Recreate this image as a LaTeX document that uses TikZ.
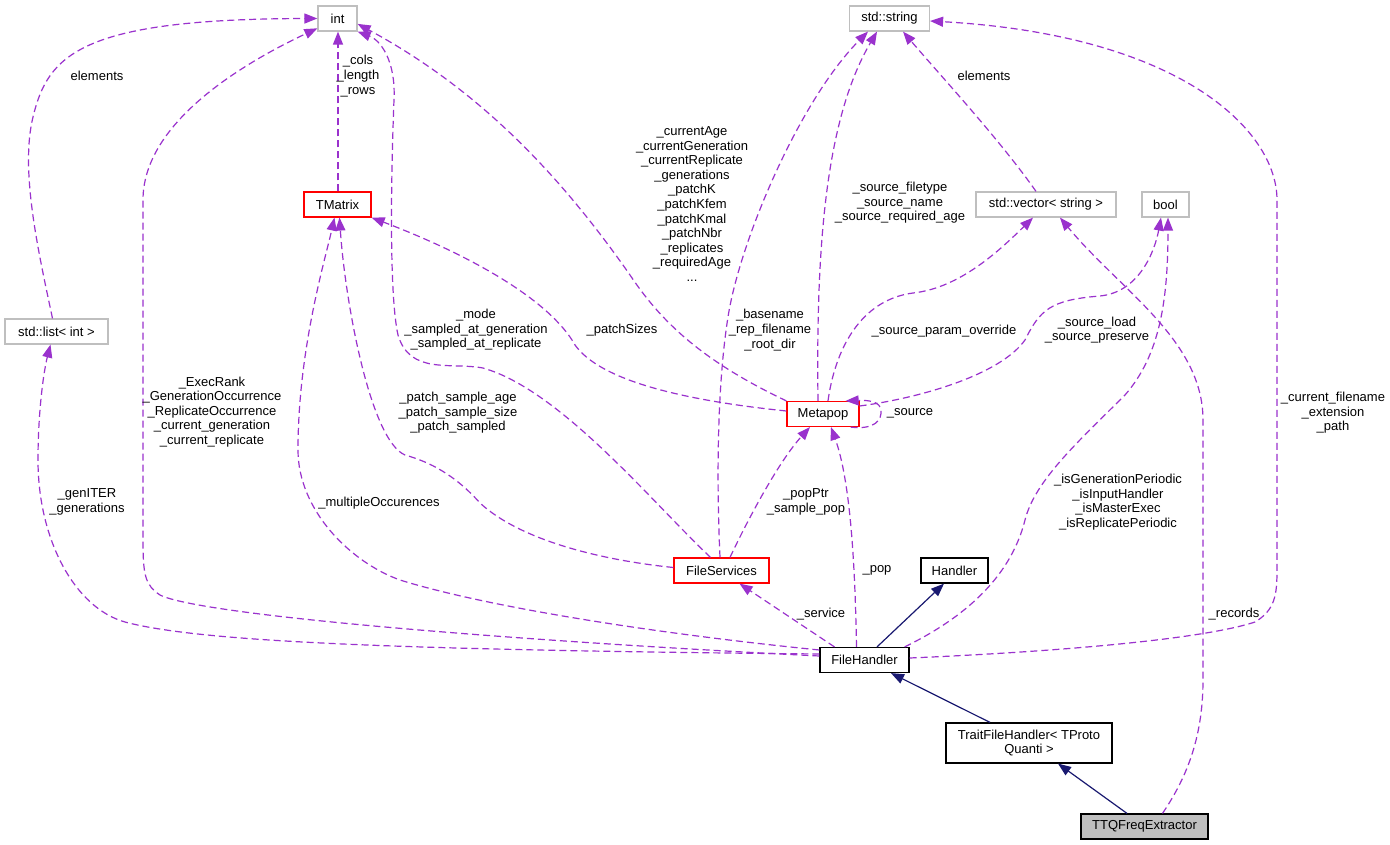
\documentclass[tikz,border=0pt]{standalone}
\usepackage{fontspec}
\newfontfamily\labfont{Liberation Sans}
\usetikzlibrary{arrows.meta}
\definecolor{boxgray}{HTML}{BFBFBF}
\definecolor{depc}{HTML}{9A32CD}
\definecolor{navyc}{HTML}{191970}
\newcommand{\lab}{\labfont\fontsize{13}{14.6}\selectfont}
\tikzset{
  box/.style={draw, line width=1.2pt, inner sep=0pt, font=\lab, align=center, fill=white, text=black},
  gbox/.style={box, draw=boxgray},
  rbox/.style={box, draw=red},
  kbox/.style={box, draw=black},
  dep/.style={draw=depc, line width=1.2pt, dash pattern=on 7pt off 4pt, -{Triangle[length=13pt,width=10pt]}},
  inh/.style={draw=navyc, line width=1.2pt, -{Triangle[length=13pt,width=10pt]}},
  lbl/.style={font=\lab, align=center, inner sep=0pt, text=black}
}
\begin{document}
\begin{tikzpicture}[x=1pt,y=-1pt]
\useasboundingbox (0,0) rectangle (1390,845);
\fill[white] (0,0) rectangle (1390,845);
% nodes
\node[gbox, minimum width=39pt, minimum height=25pt] (int) at (337.5,18.5) {int};
\node[gbox, minimum width=80pt, minimum height=25pt] (string) at (889.5,18.5) {std::string};
\node[rbox, minimum width=67pt, minimum height=25pt] (tmatrix) at (337.5,204.5) {TMatrix};
\node[gbox, minimum width=140pt, minimum height=25pt] (vector) at (1046,204.5) {std::vector< string >};
\node[gbox, minimum width=47pt, minimum height=25pt] (bool) at (1165.5,204.5) {bool};
\node[gbox, minimum width=103pt, minimum height=25pt] (list) at (56.5,331.5) {std::list< int >};
\node[rbox, minimum width=72pt, minimum height=25pt] (metapop) at (823,414) {Metapop};
\node[rbox, minimum width=95pt, minimum height=25pt] (fs) at (721.5,570.5) {FileServices};
\node[kbox, minimum width=67pt, minimum height=25pt] (handler) at (954.5,570.5) {Handler};
\node[kbox, minimum width=89pt, minimum height=25pt] (fh) at (864.5,660) {FileHandler};
\node[kbox, minimum width=166pt, minimum height=40pt] (trait) at (1029,743) {TraitFileHandler< TProto\\Quanti >};
\node[kbox, fill=boxgray, minimum width=127pt, minimum height=25pt] (ttq) at (1144.5,826.5) {TTQFreqExtractor};
% dependency edges
\draw[dep] ([xshift=-4pt]list.north) .. controls (38,250) and (20,170) .. (33,117) .. controls (48,55) and (80,19) .. (int.west);
\draw[dep] ([yshift=6pt]fh.west) .. controls (400,650) and (200,642) .. (125,622) .. controls (75,608) and (38,540) .. (38,460) .. controls (38,410) and (44,370) .. ([xshift=-6pt]list.south);
\draw[dep] ([yshift=4pt]fh.west) .. controls (500,640) and (200,615) .. (160,595) .. controls (145,585) and (143,575) .. (143,540) -- (143,200) .. controls (143,120) and (250,60) .. (int.206);
\draw[dep] ([xshift=0.5pt]tmatrix.north) -- ([xshift=0.5pt]int.south);
\draw[dep] (metapop.north west) .. controls (700,360) and (660,320) .. (630,275) .. controls (560,175) and (480,90) .. (int.-15);
\draw[dep] ([xshift=-11pt]fs.north) .. controls (650,500) and (560,390) .. (483,368) .. controls (450,362) and (410,375) .. (398,335) .. controls (388,290) and (392,150) .. (394,100) .. controls (396,60) and (380,40) .. (int.south east);
\draw[dep] ([yshift=3pt]fs.west) .. controls (600,560) and (520,540) .. (480,503) .. controls (455,475) and (430,462) .. (405,455) .. controls (370,440) and (345,300) .. ([xshift=2pt]tmatrix.south);
\draw[dep] ([yshift=10pt]fh.west) .. controls (640,632) and (480,605) .. (400,580) .. controls (350,562) and (298,510) .. (298,450) .. controls (298,350) and (325,260) .. ([xshift=-3pt]tmatrix.south);
\draw[dep] ([yshift=3pt]metapop.west) .. controls (680,400) and (600,380) .. (575,345) .. controls (550,300) and (470,255) .. (tmatrix.south east);
\draw[dep] ([xshift=-5pt]metapop.north) .. controls (816,250) and (825,120) .. ([xshift=-12.5pt]string.south);
\draw[dep] ([xshift=-1.5pt]fs.north) .. controls (716,470) and (718,380) .. (728,317) .. controls (740,240) and (800,100) .. ([xshift=-21.5pt]string.south);
\draw[dep] ([xshift=8.5pt]fs.north) .. controls (750,515) and (780,460) .. ([xshift=-13pt]metapop.south);
\draw[dep] ([xshift=-8pt]fh.north) .. controls (855,560) and (850,480) .. ([xshift=8pt]metapop.south);
\draw[dep] ([xshift=-30pt]fh.north) -- ([xshift=18pt]fs.south);
\draw[dep] ([xshift=-9pt]metapop.south east) .. controls (875,430) and (882,420) .. (881,410) .. controls (880,402) and (870,400) .. ([xshift=-14pt]metapop.north east);
\draw[dep] ([xshift=5pt]metapop.north) .. controls (835,350) and (860,300) .. (913,293) .. controls (960,288) and (1000,250) .. ([xshift=-13pt]vector.south);
\draw[dep] ([yshift=8pt]metapop.east) .. controls (920,398) and (1000,375) .. (1025,340) .. controls (1040,310) and (1050,300) .. (1100,296) .. controls (1140,292) and (1155,250) .. ([xshift=-4.5pt]bool.south);
\draw[dep] ([xshift=-5pt]fh.north east) .. controls (960,620) and (1010,580) .. (1025,520) .. controls (1035,480) and (1080,440) .. (1125,395) .. controls (1160,355) and (1168,300) .. ([xshift=2.5pt]bool.south);
\draw[dep] ([xshift=-10pt]vector.north) .. controls (1000,140) and (940,75) .. ([xshift=13.5pt]string.south);
\draw[dep] ([yshift=2pt]fh.east) .. controls (1050,652) and (1200,640) .. (1255,622) .. controls (1275,610) and (1277,595) .. (1277,570) -- (1277,200) .. controls (1277,130) and (1180,35) .. ([yshift=-2.5pt]string.east);
\draw[dep] ([xshift=18pt]ttq.north) .. controls (1185,780) and (1203,740) .. (1203,680) -- (1203,420) .. controls (1203,340) and (1120,290) .. ([xshift=14pt]vector.south);
% inheritance
\draw[inh] ([xshift=12.5pt]fh.north) -- ([xshift=-10.5pt]handler.south);
\draw[inh] ([xshift=-39pt]trait.north) -- ([xshift=26.5pt]fh.south);
\draw[inh] ([xshift=-17.5pt]ttq.north) -- ([xshift=29pt]trait.south);
% labels
\node[lbl] (lelem1) at (97,76) {elements};
\node[lbl] (lcols) at (358,76) {\_cols\\\_length\\\_rows};
\node[lbl] (lcur) at (692,204) {\_currentAge\\\_currentGeneration\\\_currentReplicate\\\_generations\\\_patchK\\\_patchKfem\\\_patchKmal\\\_patchNbr\\\_replicates\\\_requiredAge\\...};
\node[lbl] (lsrcft) at (900,203) {\_source\_filetype\\\_source\_name\\\_source\_required\_age};
\node[lbl] (lelem2) at (984,76) {elements};
\node[lbl] (lmode) at (476,330) {\_mode\\\_sampled\_at\_generation\\\_sampled\_at\_replicate};
\node[lbl] (lpsz) at (622,330) {\_patchSizes};
\node[lbl] (lbase) at (770,330) {\_basename\\\_rep\_filename\\\_root\_dir};
\node[lbl] (lspo) at (944,331) {\_source\_param\_override};
\node[lbl] (lsload) at (1097,330) {\_source\_load\\\_source\_preserve};
\node[lbl] (lsource) at (910,413) {\_source};
\node[lbl] (lexec) at (212,412) {\_ExecRank\\\_GenerationOccurrence\\\_ReplicateOccurrence\\\_current\_generation\\\_current\_replicate};
\node[lbl] (lgen) at (87,502) {\_genITER\\\_generations};
\node[lbl] (lmult) at (379,503) {\_multipleOccurences};
\node[lbl] (lpss) at (458,413) {\_patch\_sample\_age\\\_patch\_sample\_size\\\_patch\_sampled};
\node[lbl] (lpopptr) at (806,502) {\_popPtr\\\_sample\_pop};
\node[lbl] (lpop) at (877,570) {\_pop};
\node[lbl] (lisgen) at (1118,502) {\_isGenerationPeriodic\\\_isInputHandler\\\_isMasterExec\\\_isReplicatePeriodic};
\node[lbl] (lcurfn) at (1333,413) {\_current\_filename\\\_extension\\\_path};
\node[lbl] (lservice) at (821,614) {\_service};
\node[lbl] (lrecords) at (1234,614) {\_records};
\end{tikzpicture}
\end{document}
